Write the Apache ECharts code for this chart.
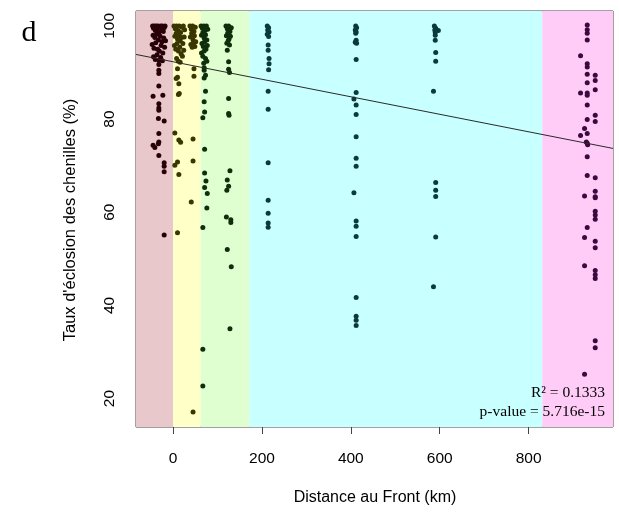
<!DOCTYPE html>
<html>
<head>
<meta charset="utf-8">
<script src="https://cdn.jsdelivr.net/npm/echarts@6/dist/echarts.min.js"></script>
<style>
html,body{margin:0;padding:0;background:#fff;}
#c{width:619px;height:513px;}
</style>
</head>
<body>
<div id="c"></div>
<script>
// ---- data (distance to front in km, hatching rate %) ----
const xTicks = [0, 200, 400, 600, 800];
const yTicks = [20, 40, 60, 80, 100];
const xRange = [-83.4, 990];
const yRange = [13.9, 103.2];
// zone limits along x (km)
const zoneEdges = [-83.4, 0, 62, 172, 831, 990];
const zoneColors = ['#e8c8cb', '#ffffc8', '#e0ffd0', '#c8ffff', '#ffccf8'];
const pointColors = ['#2a0008', '#3a3600', '#0f2f0c', '#0a3a3a', '#3a0a3e'];

const zoneFront = [
  [-46,100],[-44,99.5],[-42,100],[-40,99],[-38,100],[-36,99.2],[-34,100],[-32,98.6],[-30,99.8],[-28,100],[-26,99],[-24,100],[-22,98.8],[-20,99.6],[-18,100],
  [-45,98],[-41,97.5],[-37,98.2],[-33,97],[-29,97.8],[-25,96.6],[-21,97.4],[-17,96.8],
  [-47,96],[-43,95.2],[-39,96.4],[-35,95],[-31,94.6],[-27,95.8],[-23,94.2],[-19,95.4],
  [-44,93.4],[-40,92.8],[-36,93.8],[-32,92.6],[-28,93.2],[-24,92.5],
  [-32,91.7],[-32,90.5],[-32,89.8],[-32,87.1],[-45,84.9],[-23,85.1],[-32,83.3],[-32,82.4],[-32,81.9],
  [-33,80.1],[-20,79.6],[-32,76.9],[-32,75.1],[-33,74.7],[-45,74.4],[-41,73.9],[-32,72.2],
  [-20,70.6],[-20,69.9],[-20,68.7],[-20,55.1]
];
const zoneNear = [
  [2,100],[5,99.4],[8,100],[11,99],[14,100],[17,98.6],[20,99.7],[23,100],[26,99.2],
  [4,97.8],[7,98.4],[10,97.2],[13,97.9],[16,96.8],[19,97.5],[22,96.2],[25,97.6],
  [3,95.8],[6,95],[9,96.2],[12,94.6],[15,95.4],[18,94],[21,93.5],[24,94.8],[8,93],[12,92.4],[16,92.2],
  [10,90.8],[10,89],[7,88.7],[13,87.6],[14,85.5],[12,85.3],
  [4,77],[13,75.5],[17,75],[10,70.8],[4,70.1],[13,68.1],[10,55.6],
  [38,100],[41,99.3],[44,100],[47,98.8],[50,99.7],[39,97.6],[42,98.4],[45,97],[48,97.9],[51,96.6],[40,96],[43,95.4],[46,96.3],[49,95.6],
  [47,90.8],[47,89.2],[45,75.7],[45,71],[41,62.2],[45,17.1]
];
const zoneMid = [
  [63,100],[66,99.5],[69,100],[72,99],[75,100],[78,99.3],[64,98],[67,98.6],[70,97.4],[73,98.1],[76,97],
  [65,96.2],[68,95.6],[71,96.6],[74,95],[77,95.8],[64,94.2],[67,93.5],[70,94.6],[73,93],[76,92.4],[69,92],
  [70,91],[70,90.5],[73,89.4],[70,88.8],[73,86],[70,83.7],[71,81.5],[67,80.3],
  [71,73.5],[71,68.4],[74,66.7],[71,65.3],[77,64],[76,60.9],[67,56.7],[67,30.6],[67,22.7],
  [119,100],[122,99.4],[125,100],[128,98.8],[131,99.6],[120,97.9],[123,98.5],[126,97.2],[129,97.8],[121,96.3],[124,96.8],[127,95.9],
  [122,94.8],[125,92.3],[125,90.7],[127,90],[125,84.4],[125,81.2],[126,80.8],
  [128,68.9],[122,66.9],[125,65.6],[121,64.7],[120,59],[130,58.4],[130,57.8],[122,52],[131,48.3],[128,35]
];
const zoneFar = [
  [212,100],[215,99.6],[213,99.1],[216,98.7],[212,98.2],[215,97.7],
  [214,95.9],[214,94.8],[216,93],[216,91.9],[215,90.6],[214,86],[214,82.1],
  [214,70.6],[214,62.6],[214,59.8],[214,57.7],[214,56.8],
  [411,100],[413,99.6],[410,99.1],[412,98.7],[411,98.4],[412,96.9],[410,96.5],[413,96.3],
  [412,92.8],[412,85.7],[407,84.3],[412,83],[412,81],[412,76.2],[412,71.6],[412,69.9],
  [407,64.2],[412,58.1],[412,57],[412,54.8],[412,41.7],[412,37.7],[412,36.8],[412,35.7],
  [588,100],[591,99.5],[589,99.1],[597,99],[590,98.6],[590,98],[590,96.9],[591,94.3],[591,92.4],
  [586,86],[591,66.4],[591,64.7],[591,63.4],[591,54.7],[586,44]
];
const zoneOutside = [
  [932,100.2],[932,99.2],[932,98.4],[932,97],[917,93.6],[932,91.9],[932,91.2],[932,89.6],
  [950,89.4],[950,88.3],[932,87.8],[917,85.6],[932,85.6],[932,85.1],[950,86.3],[932,83],
  [932,79.9],[950,80.8],[950,79.5],[926,78],[917,76.5],[932,76.9],[930,75.1],[933,74.5],[932,74.8],
  [932,71.9],[932,67.9],[950,67.4],[926,63.5],[950,64.5],[950,63.3],[950,63.1],
  [950,60.2],[950,59.4],[950,58.5],[932,56.7],[926,54.6],[950,53.8],[950,52.4],
  [926,48.5],[950,47.5],[950,46.6],[950,45.8],[950,32.4],[950,30.9],[926,25.2]
];
// fitted regression line, end points
const fitLine = [[-83.4, 93.87], [990, 73.7]];
const statR2 = 'R² = 0.1333';
const statP = 'p-value = 5.716e-15';

const groups = [zoneFront, zoneNear, zoneMid, zoneFar, zoneOutside];

const chart = echarts.init(document.getElementById('c'), null, {renderer: 'canvas'});

const areas = [];
for (let i = 0; i < zoneColors.length; i++) {
  areas.push([
    {xAxis: zoneEdges[i], yAxis: yRange[0], itemStyle: {color: zoneColors[i], opacity: 1}},
    {xAxis: zoneEdges[i + 1], yAxis: yRange[1]}
  ]);
}

const series = [{
  type: 'line', data: [], z: 1, silent: true,
  markArea: {silent: true, data: areas, label: {show: false}}
}];
groups.forEach((g, i) => {
  series.push({
    type: 'scatter', data: g, symbolSize: 5, z: 3, silent: true,
    itemStyle: {color: pointColors[i], opacity: 1}
  });
});
series.push({
  type: 'line', data: fitLine, showSymbol: false, z: 4, silent: true,
  lineStyle: {color: '#2a2a2a', width: 1}
});

const sans = 'Liberation Sans, Arial, sans-serif';
const serif = 'Liberation Serif, Times New Roman, serif';

chart.setOption({
  animation: false,
  backgroundColor: '#fff',
  grid: {left: 136, right: 6, top: 11, bottom: 86, show: true, borderColor: '#444', borderWidth: 1, backgroundColor: 'transparent'},
  xAxis: {
    type: 'value', min: xRange[0], max: xRange[1],
    axisLine: {show: false},
    splitLine: {show: false},
    axisTick: {show: true, customValues: xTicks, length: 7, lineStyle: {color: '#444'}},
    axisLabel: {customValues: xTicks, fontSize: 15.5, color: '#000', fontFamily: sans, margin: 24}
  },
  yAxis: {
    type: 'value', min: yRange[0], max: yRange[1],
    axisLine: {show: false},
    splitLine: {show: false},
    axisTick: {show: true, customValues: yTicks, length: 7, lineStyle: {color: '#444'}},
    axisLabel: {customValues: yTicks, fontSize: 15.5, color: '#000', fontFamily: sans, margin: 18, rotate: 90}
  },
  series: series,
  graphic: [
    {type: 'text', x: 375, y: 498, style: {text: 'Distance au Front (km)', font: '16px ' + sans, fill: '#000', textAlign: 'center', textVerticalAlign: 'middle'}},
    {type: 'text', x: 70, y: 220, rotation: Math.PI / 2, style: {text: "Taux d'éclosion des chenilles (%)", font: '16.5px ' + sans, fill: '#000', textAlign: 'center', textVerticalAlign: 'middle'}},
    {type: 'text', x: 29, y: 33, style: {text: 'd', font: '30px ' + serif, fill: '#000', textAlign: 'center', textVerticalAlign: 'middle'}},
    {type: 'text', x: 605, y: 393, z: 10, style: {text: statR2, font: '15.5px ' + serif, fill: '#000', textAlign: 'right', textVerticalAlign: 'middle'}},
    {type: 'text', x: 605, y: 412, z: 10, style: {text: statP, font: '15.5px ' + serif, fill: '#000', textAlign: 'right', textVerticalAlign: 'middle'}}
  ]
});
</script>
</body>
</html>
